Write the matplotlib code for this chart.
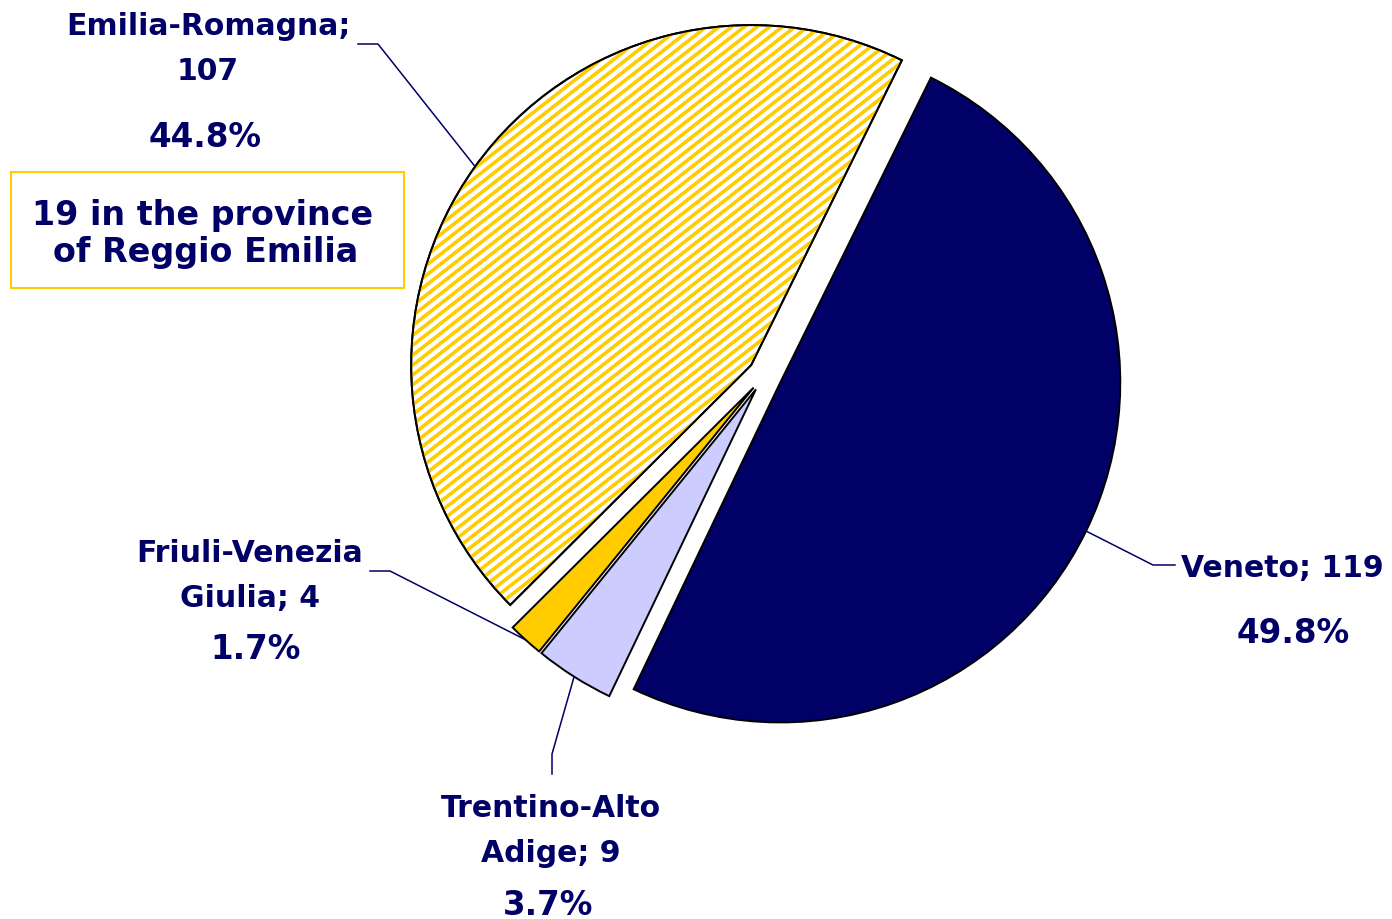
import numpy as np
import matplotlib
matplotlib.use("Agg")
import matplotlib.pyplot as plt
from matplotlib.patches import Wedge, Rectangle
from matplotlib.collections import LineCollection

# data
regions = ["Veneto", "Trentino-Alto Adige", "Friuli-Venezia Giulia", "Emilia-Romagna"]
counts = [119, 9, 4, 107]
percents = [49.8, 3.7, 1.7, 44.8]
note = ["19 in the province", "of Reggio Emilia"]

# style
navy = "#000066"
gold = "#FFCC00"
colors = [navy, "#CCCCFF", gold, "white"]
W, H = 1392, 920


def Y(y):
    # screen pixel row -> data y
    return H - y


fig = plt.figure(figsize=(W / 100, H / 100), dpi=100)
ax = fig.add_axes([0, 0, 1, 1])

# explode is in data units here (1 unit = 1 px)
wedges, _ = ax.pie(
    counts,
    explode=[17] * len(counts),
    colors=colors,
    startangle=63.7,
    counterclock=False,
    radius=340,
    center=(765, Y(376)),
    wedgeprops=dict(edgecolor="black", linewidth=1.4),
)
ax.set_xlim(0, W)
ax.set_ylim(0, H)
ax.set_aspect("equal")
ax.axis("off")

# striped fill for Emilia-Romagna
emr = wedges[3]
ang = np.deg2rad(38)
d = np.array([np.cos(ang), np.sin(ang)])
n = np.array([-np.sin(ang), np.cos(ang)])
cx, cy = emr.center
segs = []
for off in np.arange(-400, 400, 7.8):
    p = np.array([cx, cy]) + off * n
    segs.append([p - 450 * d, p + 450 * d])
stripes = LineCollection(segs, colors=gold, linewidths=2.6, zorder=2)
stripes.set_clip_path(emr)
ax.add_collection(stripes)
ax.add_patch(Wedge(emr.center, emr.r, emr.theta1, emr.theta2,
                   facecolor="none", edgecolor="black", linewidth=1.4, zorder=3))

# labels: center x, first line baseline, percent position, leader elbow/end
label_x = [1282, 551, 250, 208]
name_base = [577, 817, 562, 35]
pct_xy = [(1293, 643), (548, 915), (256, 659), (205, 147)]
wrap = [False, True, True, True]
elbows = [((1153, 566), (1175, 566)), ((552, 755), (552, 775)),
          ((390, 572), (370, 572)), ((378, 45), (358, 45))]

font = dict(fontsize=21.5, fontweight="bold", color=navy, family="DejaVu Sans")

for i, w in enumerate(wedges):
    text = f"{regions[i]}; {counts[i]}"
    lines = text.replace(" ", "\n", 1).split("\n") if wrap[i] else [text]
    for k, line in enumerate(lines):
        ax.text(label_x[i], Y(name_base[i] + 45 * k), line, ha="center", va="baseline", **font)
    px, py = pct_xy[i]
    ax.text(px, Y(py), f"{percents[i]:.1f}%", ha="center", va="baseline",
            **{**font, "fontsize": 23.5})

    mid = np.deg2rad((w.theta1 + w.theta2) / 2)
    ax0 = w.center[0] + w.r * np.cos(mid)
    ay0 = w.center[1] + w.r * np.sin(mid)
    (ex, ey), (tx, ty) = elbows[i]
    ax.plot([ax0, ex, tx], [ay0, Y(ey), Y(ty)], color=navy, linewidth=1.1, zorder=4)

# note box
ax.add_patch(Rectangle((11, Y(289)), 393, 116, facecolor="white",
                       edgecolor=gold, linewidth=1.5, zorder=5))
ax.text(203, Y(225), note[0], ha="center", va="baseline", zorder=6,
        **{**font, "fontsize": 24})
ax.text(206, Y(262), note[1], ha="center", va="baseline", zorder=6,
        **{**font, "fontsize": 24})

fig.savefig("out.png", dpi=100)
